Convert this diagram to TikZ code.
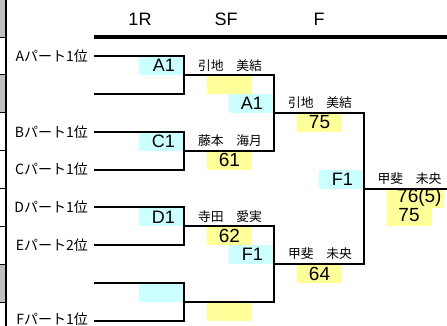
\documentclass[tikz,border=0pt]{standalone}
\usepackage{fontspec}
\setmainfont{Liberation Sans}
\newfontfamily\jp{Noto Sans CJK JP}
\definecolor{cy}{HTML}{CCFFFF}
\definecolor{yl}{HTML}{FFFF99}
\definecolor{gr}{HTML}{C0C0C0}
\begin{document}
\begin{tikzpicture}[x=1pt,y=-1pt,
  brk/.style={line width=2pt, line join=miter},
  cyfill/.style={fill=cy},
  ylfill/.style={fill=yl},
  big/.style={font=\fontsize{18}{18}\selectfont, inner sep=0pt},
  score/.style={font=\fontsize{19}{19}\selectfont, inner sep=0pt},
  nm/.style={font=\jp\fontsize{12.8}{12.8}\selectfont, inner sep=0pt},
  lab/.style={font=\jp\fontsize{14}{14}\selectfont, inner sep=0pt, anchor=east}]
\useasboundingbox (0,0) rectangle (447,326);
% left column
\fill[gr] (0,0) rectangle (5,37.1);
\fill[gr] (0,75) rectangle (5,112.8);
\fill[gr] (0,264.3) rectangle (5,302.1);
\foreach \yy in {37.1,75,112.8,150.7,188.6,226.4,264.3,302.1}
  \draw[line width=1pt] (0,\yy) -- (6,\yy);
\draw[line width=1.6pt] (6,0) -- (6,326);
% header
\node[big] (h1) at (140,19) {1R};
\node[big] (h2) at (226,19) {SF};
\node[big] (h3) at (319,19) {F};
\coordinate (hs) at (94,37.3);
\coordinate (he) at (447,37.3);
\draw[line width=3.6pt] (hs) -- (he);
% boxes
\fill[cyfill] (139,56) rectangle (184,75);
\fill[cyfill] (139,131.7) rectangle (184,150.7);
\fill[cyfill] (139,207.4) rectangle (184,226.4);
\fill[cyfill] (139,283.2) rectangle (184,302.1);
\fill[ylfill] (206.5,75) rectangle (251.5,93.9);
\fill[ylfill] (206.5,150.7) rectangle (251.5,169.6);
\fill[ylfill] (206.5,226.4) rectangle (251.5,245.3);
\fill[ylfill] (206.5,302.1) rectangle (251.5,321);
\fill[cyfill] (229,93.9) rectangle (274,112.8);
\fill[cyfill] (229,245.3) rectangle (274,264.3);
\fill[ylfill] (296.5,112.8) rectangle (341.5,131.7);
\fill[ylfill] (296.5,264.3) rectangle (341.5,283.2);
\fill[cyfill] (319,169.6) rectangle (364,188.6);
\fill[ylfill] (386.5,188.6) rectangle (444,207.5);
\fill[ylfill] (386.5,207.5) rectangle (431.5,226.4);
% coordinates for bracket
\foreach \i/\yy in {0/56,1/93.9,2/131.7,3/169.6,4/207.4,5/245.3,6/283.2,7/321}{
  \coordinate (a\i) at (94,\yy);
  \coordinate (v\i) at (184,\yy);
}
\foreach \n/\yy in {01/75,23/150.7,45/226.4,67/302.1}{
  \coordinate (m\n) at (184,\yy);
  \coordinate (s\n) at (274,\yy);
}
\coordinate (fa) at (274,112.8);
\coordinate (fb) at (364,112.8);
\coordinate (fc) at (274,264.3);
\coordinate (fd) at (364,264.3);
\coordinate (fm) at (364,188.6);
\coordinate (fe) at (447,188.6);
% bracket lines
\draw[brk] (a0) -- (v0) -- (v1) -- (a1);
\draw[brk] (a2) -- (v2) -- (v3) -- (a3);
\draw[brk] (a4) -- (v4) -- (v5) -- (a5);
\draw[brk] (a6) -- (v6) -- (v7) -- (a7);
\draw[brk] (m01) -- (s01) -- (s23) -- (m23);
\draw[brk] (m45) -- (s45) -- (s67) -- (m67);
\draw[brk] (fa) -- (fb) -- (fd) -- (fc);
\draw[brk] (fm) -- (fe);
% left labels
\node[lab] (lA) at (88,56) {Aパート1位};
\node[lab] (lB) at (88,131.7) {Bパート1位};
\node[lab] (lC) at (88,169.6) {Cパート1位};
\node[lab] (lD) at (88,207.4) {Dパート1位};
\node[lab] (lE) at (88,245.3) {Eパート2位};
\node[lab] (lF) at (88,319.2) {Fパート1位};
% seed labels
\node[big, anchor=east] (tA1) at (175,65.5) {A1};
\node[big, anchor=east] (tC1) at (175,141.2) {C1};
\node[big, anchor=east] (tD1) at (175,216.9) {D1};
\node[big, anchor=east] (tA1b) at (263,103.4) {A1};
\node[big, anchor=east] (tF1) at (263,254.8) {F1};
\node[big, anchor=east] (tF1b) at (353,179.1) {F1};
% names
\node[nm] (n1) at (230,65.5) {引地　美結};
\node[nm] (n2) at (230,141) {藤本　海月};
\node[nm] (n3) at (230,216.5) {寺田　愛実};
\node[nm] (n4) at (320,102.5) {引地　美結};
\node[nm] (n5) at (320,254) {甲斐　未央};
\node[nm] (n6) at (409.5,178.5) {甲斐　未央};
% scores
\node[score] (sc1) at (229.5,160.2) {61};
\node[score] (sc2) at (229.5,235.9) {62};
\node[score] (sc3) at (319.5,122.3) {75};
\node[score] (sc4) at (319.5,273.7) {64};
\node[score, anchor=west] (sc5) at (397,197.8) {76(5)};
\node[score] (sc6) at (409,215.5) {75};
\end{tikzpicture}
\end{document}
